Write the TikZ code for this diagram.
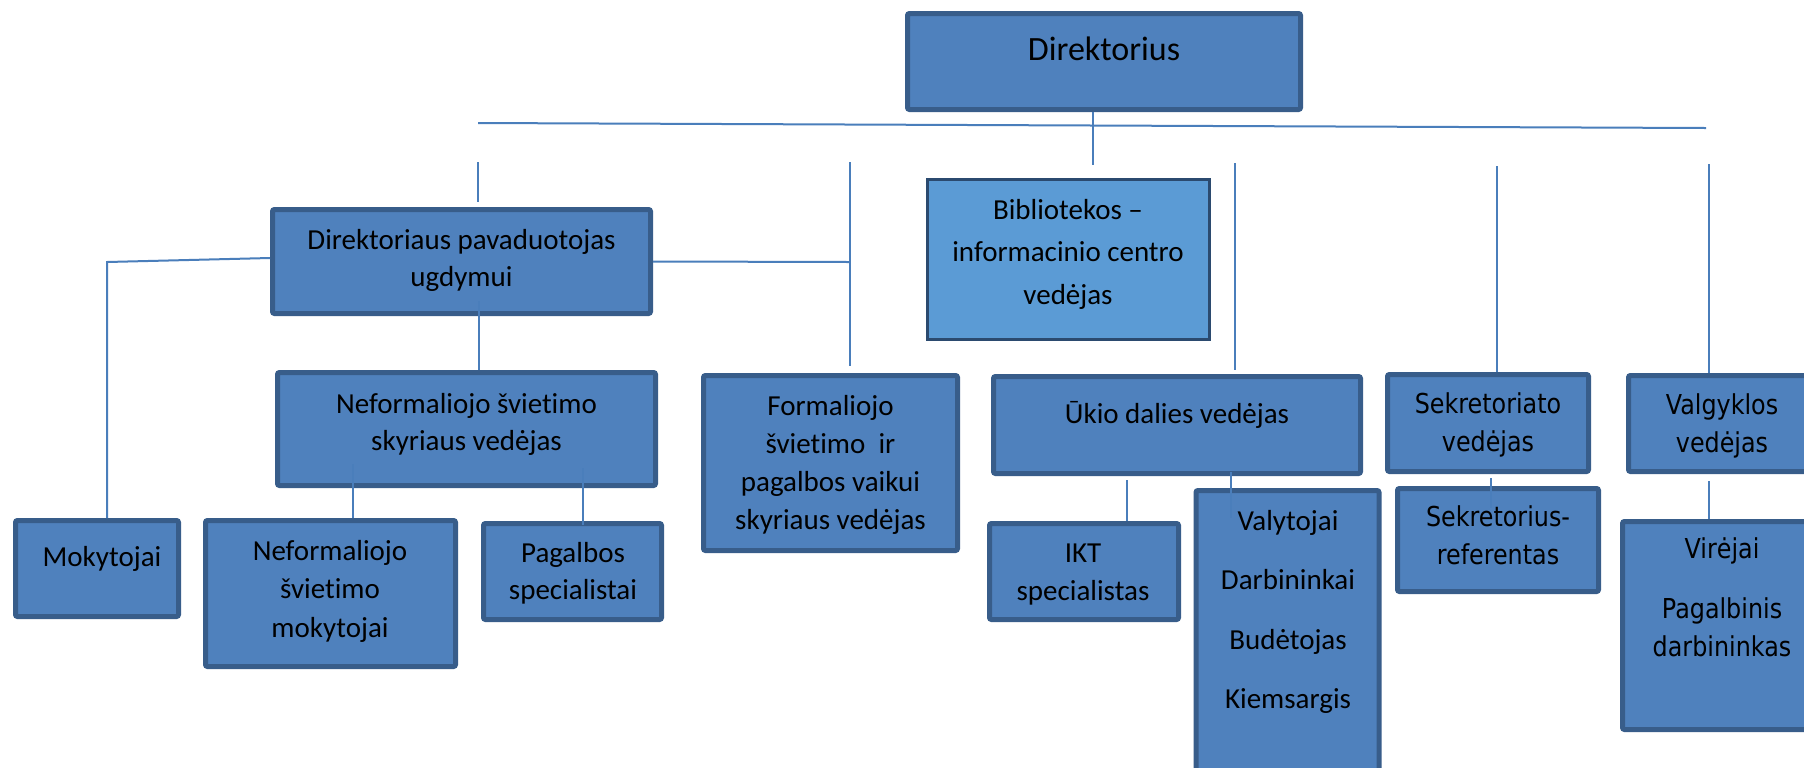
\documentclass[tikz,border=0pt]{standalone}
\usepackage{fontspec}
\usetikzlibrary{calc}
\newfontfamily\calibfont[Ligatures={NoCommon}]{Carlito}
\newfontfamily\tahfont[FakeStretch=0.87]{DejaVu Sans}
\definecolor{boxfill}{HTML}{4F81BD}
\definecolor{boxline}{HTML}{385D8A}
\definecolor{bibfill}{HTML}{5B9BD5}
\definecolor{bibline}{HTML}{2B4A6F}
\definecolor{conn}{HTML}{4A7EBB}
\newcommand\lns[1]{\begin{tabular}[t]{@{}c@{}}#1\end{tabular}}
\tikzset{
  bx/.style={draw=boxline, line width=2.5pt, fill=boxfill, rounded corners=1pt, inner sep=0pt},
  bib/.style={draw=bibline, line width=1.35pt, fill=bibfill, inner sep=0pt},
  cal/.style={anchor=base, inner sep=0pt, font=\calibfont\fontsize{14.5}{18.75}\selectfont},
  tah/.style={anchor=base, inner sep=0pt, font=\tahfont\fontsize{13.7}{19}\selectfont},
  ln/.style={draw=conn, line width=1pt}
}
\begin{document}
\begin{tikzpicture}[x=0.5pt,y=-0.5pt]
\clip (0,0) rectangle (1804,767);
\fill[white] (0,0) rectangle (1804,767);

% boxes
\node[bx, minimum width=196.5pt, minimum height=48pt] (dir) at (1104,61.5) {};
\node[bib, minimum width=141.2pt, minimum height=80.2pt] (bibl) at (1068.5,259.5) {};
\node[bx, minimum width=189pt, minimum height=52pt] (pav) at (461.5,261.5) {};
\node[bx, minimum width=189pt, minimum height=56.5pt] (nefv) at (466.5,429) {};
\node[bx, minimum width=81.5pt, minimum height=48pt] (mok) at (97,568.5) {};
\node[bx, minimum width=125pt, minimum height=73pt] (nefm) at (330.5,593.5) {};
\node[bx, minimum width=89pt, minimum height=48pt] (pag) at (572.5,571.5) {};
\node[bx, minimum width=127pt, minimum height=87.5pt] (form) at (830.5,463) {};
\node[bx, minimum width=183.5pt, minimum height=48.5pt] (ukio) at (1177,425) {};
\node[bx, minimum width=94.5pt, minimum height=48pt] (ikt) at (1084,571.5) {};
\node[bx, minimum width=91.5pt, minimum height=153.5pt] (valy) at (1287.5,644) {};
\node[bx, minimum width=100.5pt, minimum height=48.5pt] (sekv) at (1488,423) {};
\node[bx, minimum width=100.5pt, minimum height=51.5pt] (sekr) at (1498,540) {};
\node[bx, minimum width=94.5pt, minimum height=48pt] (valg) at (1723,423.5) {};
\node[bx, minimum width=102.5pt, minimum height=104pt] (vir) at (1725,625.5) {};

% texts
\node[cal, font=\calibfont\fontsize{17}{20}\selectfont] (t-dir) at (1104,60) {Direktorius};
\node[cal, font=\calibfont\fontsize{14.5}{21.25}\selectfont] (t-bib) at (1068,219) {\lns{Bibliotekos –\\informacinio centro\\vedėjas}};
\node[cal] (t-pav) at (461.5,249) {\lns{Direktoriaus pavaduotojas\\ugdymui}};
\node[cal] (t-nefv) at (466.5,413) {\lns{Neformaliojo švietimo\\skyriaus vedėjas}};
\node[cal] (t-mok) at (102,566) {Mokytojai};
\node[cal, font=\calibfont\fontsize{14.5}{19.25}\selectfont] (t-nefm) at (330,560) {\lns{Neformaliojo\\švietimo\\mokytojai}};
\node[cal] (t-pag) at (573,562) {\lns{Pagalbos\\specialistai}};
\node[cal, font=\calibfont\fontsize{14.5}{19.1}\selectfont] (t-form) at (830.5,415) {\lns{Formaliojo\\švietimo~ ir\\pagalbos vaikui\\skyriaus vedėjas}};
\node[cal] (t-ukio) at (1177,423) {Ūkio dalies vedėjas};
\node[cal, font=\calibfont\fontsize{14.5}{19}\selectfont] (t-ikt) at (1083,562) {\lns{IKT\\specialistas}};
\node[cal, font=\calibfont\fontsize{14.5}{29.8}\selectfont] (t-valy) at (1288,530) {\lns{Valytojai\\Darbininkai\\Budėtojas\\Kiemsargis}};
\node[tah] (t-sekv) at (1488,413.5) {\lns{Sekretoriato\\vedėjas}};
\node[tah] (t-sekr) at (1498,526) {\lns{Sekretorius-\\referentas}};
\node[tah] (t-valg) at (1722,414) {\lns{Valgyklos\\vedėjas}};
\node[tah] (t-vir) at (1722,558) {\lns{Virėjai\\[11pt]Pagalbinis\\darbininkas}};

% connector coordinates
\coordinate (busL) at (478,123);
\coordinate (busR) at (1706,128);
\coordinate (dj) at (1093,165);
\coordinate (d1) at (478,162);
\coordinate (d2) at (850,162);
\coordinate (d3) at (1235,163);
\coordinate (d4) at (1497,166);
\coordinate (d5) at (1709,164);
\coordinate (mk) at (107,262);
\coordinate (pr) at (850,262);
\coordinate (pd) at (479,301);
\coordinate (n1) at (353,464);
\coordinate (n2) at (583,468);
\coordinate (u1) at (1127,480);
\coordinate (u2) at (1231,472);
\coordinate (s1) at (1491,478);
\coordinate (v1) at (1709,481);

% connectors
\draw[ln] (busL) -- (busR);
\draw[ln] (dj |- dir.south) -- (dj);
\draw[ln] (d1) -- ++(0,40);
\draw[ln] (d2) -- ++(0,204);
\draw[ln] (d3) -- ++(0,207);
\draw[ln] (d4) -- (d4 |- sekv.north);
\draw[ln] (d5) -- (d5 |- valg.north);
\draw[ln] ($(pav.west)+(0,-3.5)$) -- (mk) -- (mk |- mok.north);
\draw[ln] (pav.east) -- (pr);
\draw[ln] (pd) -- (pd |- nefv.north);
\draw[ln] (n1) -- (n1 |- nefm.north);
\draw[ln] (n2) -- ($(n2 |- pag.north)+(0,4)$);
\draw[ln] (u1) -- (u1 |- ikt.north);
\draw[ln] (u2) -- ($(u2 |- valy.north)+(0,30)$);
\draw[ln] (s1) -- ($(s1 |- sekr.north)+(0,22)$);
\draw[ln] (v1) -- (v1 |- vir.north);
\end{tikzpicture}
\end{document}
